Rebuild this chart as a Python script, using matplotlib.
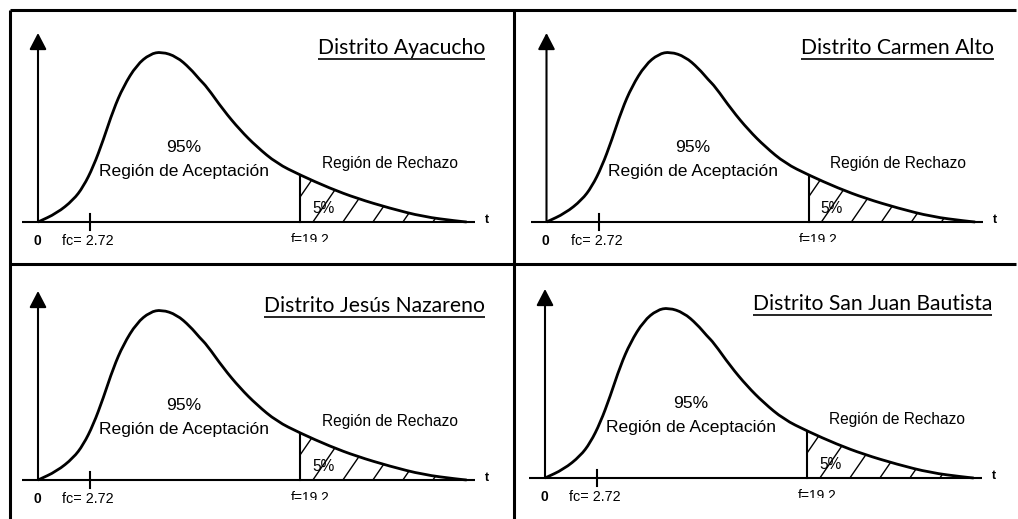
import numpy as np
import matplotlib
matplotlib.use("Agg")
import matplotlib.pyplot as plt
from matplotlib.lines import Line2D
from matplotlib.path import Path
from matplotlib.patches import PathPatch, Polygon
from matplotlib.collections import LineCollection
from matplotlib.transforms import Bbox, TransformedBbox

# ---------------- data (schematic F-distribution) ----------------
districts = ["Distrito Ayacucho", "Distrito Carmen Alto",
             "Distrito Jesús Nazareno", "Distrito San Juan Bautista"]
fc_labels = ["fc= 2.72", "fc= 2.72", "fc= 2.72", "fc= 2.72"]
ft_labels = ["f=19.2", "f=19.2", "f=19.2", "f=19.2"]
accept_pct = "95%"
reject_pct = "5%"
accept_label = "Región de Aceptación"
reject_label = "Región de Rechazo"

# curve in schematic units (x: 0..100 along the t axis, y: 0..100, peak = 100)
curve_x = [0.0, 4.36, 8.23, 10.57, 12.90, 15.23, 17.56, 19.90, 23.02, 26.13, 28.85,
           32.35, 35.46, 37.79, 39.35, 43.22, 47.12, 51.01, 55.68, 61.12, 68.11,
           74.34, 82.11, 89.88, 97.67, 100.0]
curve_y = [0.0, 5.11, 12.92, 20.73, 32.47, 48.15, 65.77, 79.45, 92.19, 98.65, 100.0,
           97.06, 90.25, 83.38, 79.45, 65.77, 54.02, 44.22, 34.47, 27.60, 19.79,
           13.92, 8.04, 3.11, 0.59, 0.0]
fc_pos = 12.13      # schematic position of the calculated value tick
crit_pos = 61.12    # schematic position of the critical value

# ---------------- layout ----------------
W, H, DPI = 1018, 519, 200
fig = plt.figure(figsize=(W / DPI, H / DPI), dpi=DPI)
fig.patch.set_facecolor("white")

SX, SY = 4.287, 1.703   # pixels per schematic unit
panels = [  # box (x0, y0, x1, y1) in pixels (top-down), origin (ox, oy)
    ((10, 10, 514, 264), (38, 222)),
    ((514, 10, 1018, 264), (546.5, 222)),
    ((10, 264, 514, 519), (38, 480)),
    ((514, 264, 1018, 519), (545, 478)),
]

SANS = ["Liberation Sans", "DejaVu Sans"]
TITLE = ["Lato", "DejaVu Sans"]
LW = 0.75

cx = np.array(curve_x)
cy = np.array(curve_y)


def smooth_path(xs, ys):
    """Quadratic-Bezier path through the midpoints, using the read points as controls."""
    verts = [(xs[0], ys[0])]
    codes = [Path.MOVETO]
    verts.append(((xs[0] + xs[1]) / 2, (ys[0] + ys[1]) / 2))
    codes.append(Path.LINETO)
    for k in range(1, len(xs) - 1):
        verts.append((xs[k], ys[k]))
        verts.append(((xs[k] + xs[k + 1]) / 2, (ys[k] + ys[k + 1]) / 2))
        codes += [Path.CURVE3, Path.CURVE3]
    verts.append((xs[-1], ys[-1]))
    codes.append(Path.LINETO)
    return Path(verts, codes)


curve_path = smooth_path(cx, cy)

axes = []
titles = []
for i, ((x0, y0, x1, y1), (ox, oy)) in enumerate(panels):
    ax = fig.add_axes([x0 / W, 1 - y1 / H, (x1 - x0) / W, (y1 - y0) / H])
    ax.set_xlim((x0 - ox) / SX, (x1 - ox) / SX)
    ax.set_ylim((oy - y1) / SY, (oy - y0) / SY)
    ax.axis("off")

    # axes lines
    ax.plot([-3.7, 101.9], [0, 0], color="black", lw=LW, solid_capstyle="butt")
    ax.annotate("", xy=(0, 111), xytext=(0, 0),
                arrowprops=dict(arrowstyle="-|>,head_length=0.5,head_width=0.26",
                                color="black", lw=LW, shrinkA=0, shrinkB=0,
                                mutation_scale=10))
    # curve
    ax.add_patch(PathPatch(curve_path, facecolor="none", edgecolor="black",
                           lw=1.0, joinstyle="round"))

    # rejection region: hatch strokes clipped to the tail area
    mask = cx >= crit_pos
    crit_h = np.interp(crit_pos, cx, cy)
    tail = Polygon(np.column_stack([np.r_[crit_pos, cx[mask], crit_pos],
                                    np.r_[crit_h, cy[mask], 0]]),
                   closed=True, facecolor="none", edgecolor="none")
    ax.add_patch(tail)
    step = 30 / SX                       # 30 px between strokes
    dxu, dyu = 55 / 3 / SX, 80 / 3 / SY  # stroke direction (steep slash)
    starts = crit_pos - 4 + step * np.arange(0, 7)
    segs = [[(s, 0), (s + dxu * 2, dyu * 2)] for s in starts]
    lc = LineCollection(segs, colors="black", linewidths=0.5)
    ax.add_collection(lc)
    lc.set_clip_path(tail)

    ax.plot([crit_pos, crit_pos], [0, crit_h], color="black", lw=LW)
    # fc tick
    ax.plot([fc_pos, fc_pos], [4.7, -4.7], color="black", lw=LW)

    # texts
    ax.text(-0.2, -10.9, "0", fontsize=5.0, family=SANS, ha="center", va="center",
            fontweight="bold")
    ax.text(5.6, -10.9, fc_labels[i], fontsize=5.2, family=SANS, ha="left",
            va="center")
    t = ax.text(crit_pos + 2.3, -10.6, ft_labels[i], fontsize=5.0, family=SANS,
                ha="center", va="center")
    clip = TransformedBbox(Bbox([[40, -12.0], [90, 0]]), ax.transData)
    t.set_clip_box(clip)
    t.set_clip_on(True)
    ax.text(104.7, 1.2, "t", fontsize=4.5, family=SANS, ha="center", va="center",
            fontweight="bold")
    ax.text(34.06, 44.0, accept_pct, fontsize=6.3, family=SANS, ha="center",
            va="center")
    ax.text(34.06, 29.9, accept_label, fontsize=6.3, family=SANS, ha="center",
            va="center")
    ax.text(82.1, 34.1, reject_label, fontsize=5.6, family=SANS, ha="center",
            va="center")
    ax.text(66.5, 8.2, reject_pct, fontsize=5.6, family=SANS, ha="center",
            va="center")
    tt = ax.text(104.3, 98.7, districts[i], fontsize=7.6, family=TITLE, ha="right",
                 va="baseline")
    axes.append(ax)
    titles.append(tt)


# frame lines of the composite figure
def fline(xs, ys, lw=1.1):
    fig.add_artist(Line2D([x / W for x in xs], [1 - y / H for y in ys],
                          color="black", lw=lw, transform=fig.transFigure,
                          solid_capstyle="butt"))


fline([10, 10], [10, 519])
fline([514, 514], [10, 519])
fline([10, 1016], [10, 10])
fline([10, 1016], [264, 264])

# underline titles
fig.canvas.draw()
r = fig.canvas.get_renderer()
for ax, tt in zip(axes, titles):
    bb = tt.get_window_extent(r)
    inv = ax.transData.inverted()
    (xa, _), (xb, _) = inv.transform([(bb.x0, bb.y0), (bb.x1, bb.y0)])
    ax.plot([xa, xb], [95.8, 95.8], color="black", lw=0.6, solid_capstyle="butt")

fig.savefig("out.png", dpi=DPI, facecolor="white")
